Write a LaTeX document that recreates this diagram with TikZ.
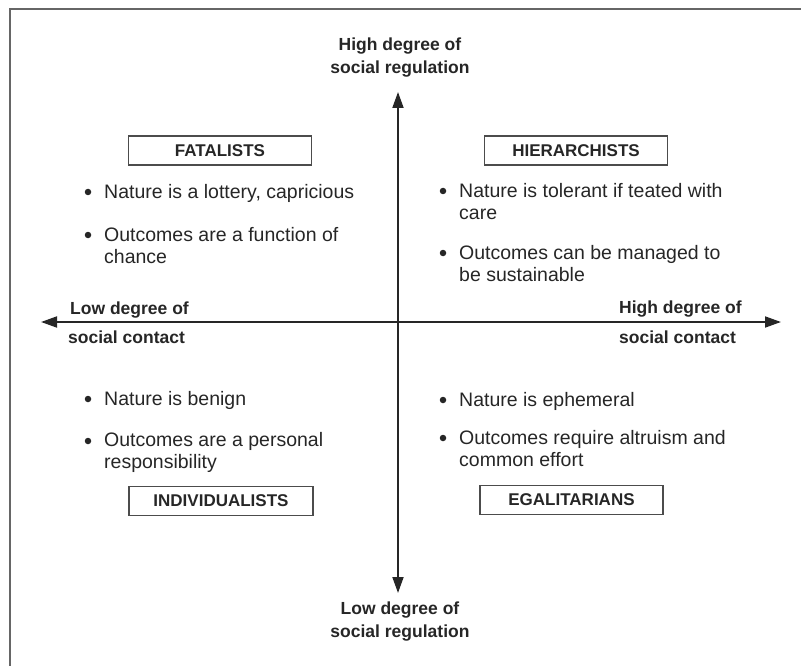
\documentclass[tikz,border=0pt]{standalone}
\usepackage{fontspec}
\setmainfont{Liberation Sans}
\usetikzlibrary{arrows.meta}
\begin{document}
\begin{tikzpicture}[x=1pt,y=-1pt,
  txt/.style={anchor=base west, inner sep=0pt, font=\fontsize{19.5}{22}\selectfont, text=black!85, align=left},
  lbl/.style={font=\bfseries\fontsize{17.5}{23}\selectfont, text=black!85, inner sep=0pt},
  grp/.style={draw=black!70, line width=1.3pt, minimum width=183pt, minimum height=29pt, font=\bfseries\fontsize{17}{20}\selectfont, text=black!85, inner sep=0pt},
  dot/.style={circle, fill=black!85, inner sep=0pt, minimum size=6.5pt},
  axis/.style={line width=1.8pt, draw=black!85, -{Triangle[length=16pt,width=11pt]}}
]
\useasboundingbox (0,0) rectangle (801,666);
\draw[black!60, line width=1.5pt] (10,666) -- (10,9) -- (801,9);

% axes
\coordinate (O) at (398,322);
\coordinate (T) at (398,92);
\coordinate (B) at (398,593);
\coordinate (L) at (41,322);
\coordinate (R) at (781,322);
\draw[axis] (O) -- (T);
\draw[axis] (O) -- (B);
\draw[axis] (O) -- (L);
\draw[axis] (O) -- (R);

% axis labels
\node[lbl, align=center] (hreg) at (400,58) {High degree of\\social regulation};
\node[lbl, align=center] (lreg) at (400,622) {Low degree of\\social regulation};
\node[lbl, anchor=base west] (lcon1) at (70,314) {Low degree of};
\node[lbl, anchor=base west] (lcon2) at (68,343) {social contact};
\node[lbl, anchor=base west] (hcon1) at (619,313) {High degree of};
\node[lbl, anchor=base west] (hcon2) at (619,343) {social contact};

% group boxes
\node[grp] (fat) at (220,150.5) {FATALISTS};
\node[grp] (hie) at (576,150.5) {HIERARCHISTS};
\node[grp, minimum width=184pt] (ind) at (221,501) {INDIVIDUALISTS};
\node[grp] (ega) at (571.5,500) {EGALITARIANS};

% Fatalists
\node[dot] (fd1) at (88,192) {};
\node[txt] (ft1) at (104,198) {Nature is a lottery, capricious};
\node[dot] (fd2) at (88,235) {};
\node[txt] (ft2) at (104,263) {Outcomes are a function of\\chance};

% Hierarchists
\node[dot] (hd1) at (443,191) {};
\node[txt] (ht1) at (459,219) {Nature is tolerant if teated with\\care};
\node[dot] (hd2) at (443,253) {};
\node[txt] (ht2) at (459,281) {Outcomes can be managed to\\be sustainable};

% Individualists
\node[dot] (id1) at (88,399) {};
\node[txt] (it1) at (104,405) {Nature is benign};
\node[dot] (id2) at (88,441) {};
\node[txt] (it2) at (104,468) {Outcomes are a personal\\responsibility};

% Egalitarians
\node[dot] (ed1) at (443,400) {};
\node[txt] (et1) at (459,406) {Nature is ephemeral};
\node[dot] (ed2) at (443,438) {};
\node[txt] (et2) at (459,466) {Outcomes require altruism and\\common effort};
\end{tikzpicture}
\end{document}
